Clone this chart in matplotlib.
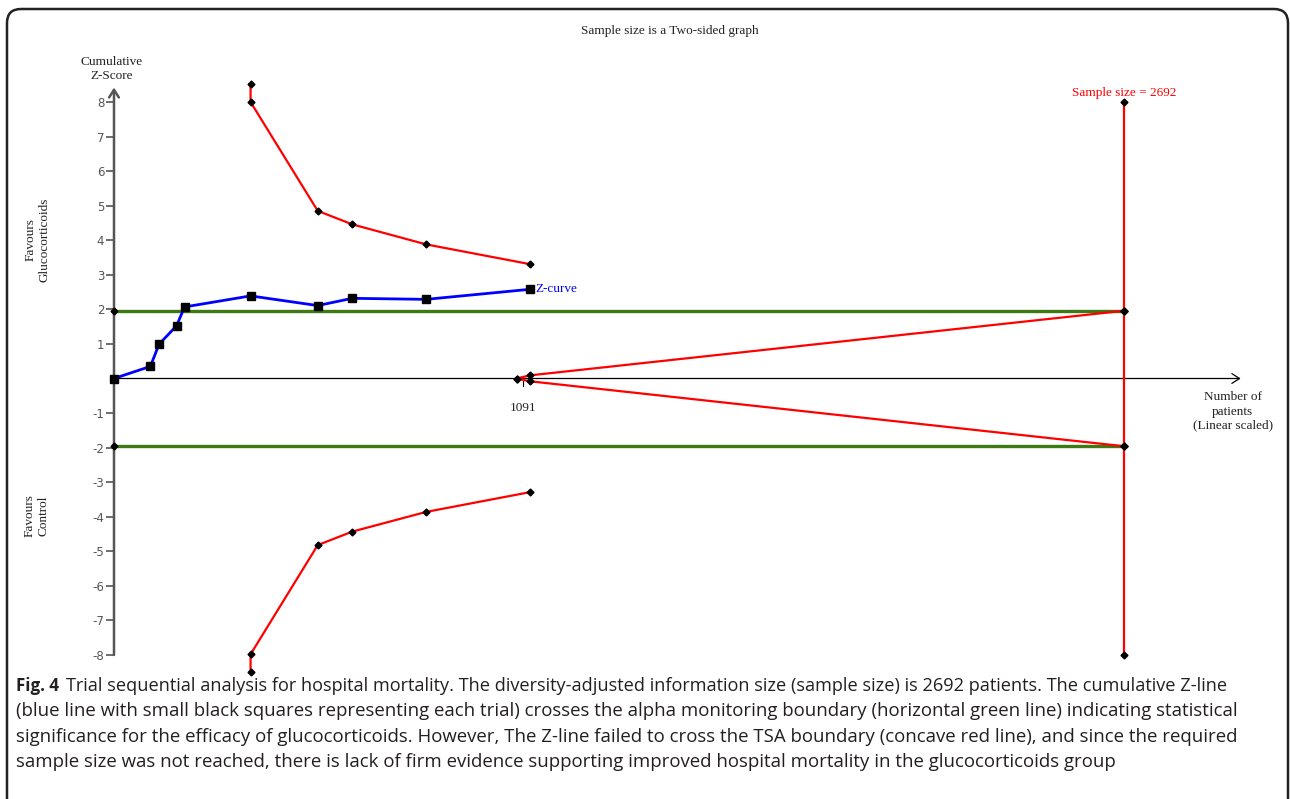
import matplotlib
matplotlib.use('Agg')
import matplotlib.pyplot as plt
from matplotlib.patches import FancyBboxPatch

# ---------------- data ----------------
z_patients = [0, 97, 120, 167, 188, 364, 543, 635, 832, 1108]
z_scores = [0.0, 0.35, 0.99, 1.53, 2.07, 2.39, 2.11, 2.32, 2.29, 2.58]

bound_patients = [364, 364, 543, 635, 832, 1108]
upper_bound = [8.52, 8.0, 4.85, 4.46, 3.88, 3.31]
lower_bound = [-8.49, -7.98, -4.82, -4.43, -3.86, -3.29]

futility_patients = [1073, 1108, 2692]
futility_upper = [0.0, 0.09, 1.96]
futility_lower = [0.0, -0.08, -1.96]

alpha_level = 1.96
required_size = 2692
ris_z = [8.0, 1.96, -1.96, -8.0]
current_total = 1091

y_ticks = [-8, -7, -6, -5, -4, -3, -2, -1, 1, 2, 3, 4, 5, 6, 7, 8]

title = "Sample size is a Two-sided graph"
caption_bold = "Fig. 4"
caption_lines = [
    "Trial sequential analysis for hospital mortality. The diversity-adjusted information size (sample size) is 2692 patients. The cumulative Z-line",
    "(blue line with small black squares representing each trial) crosses the alpha monitoring boundary (horizontal green line) indicating statistical",
    "significance for the efficacy of glucocorticoids. However, The Z-line failed to cross the TSA boundary (concave red line), and since the required",
    "sample size was not reached, there is lack of firm evidence supporting improved hospital mortality in the glucocorticoids group",
]

# ---------------- figure ----------------
W, H = 1290, 799
fig = plt.figure(figsize=(W / 100, H / 100), dpi=100)
fig.patch.set_facecolor('white')

serif = ['Liberation Serif', 'DejaVu Serif']
capfont = ['Open Sans', 'DejaVu Sans']

# overlay in pixel coordinates
ov = fig.add_axes([0, 0, 1, 1])
ov.set_xlim(0, W)
ov.set_ylim(H, 0)
ov.axis('off')
ov.add_patch(FancyBboxPatch((7, 9), 1281, 840, boxstyle='round,pad=0,rounding_size=14',
                            fill=False, lw=1.8, ec='#222222', clip_on=False))

# main axes
ax = fig.add_axes([114 / W, (H - 655) / H, 1010 / W, 553 / H])
ax.set_xlim(0, required_size)
ax.set_ylim(-8, 8)
for s in ax.spines.values():
    s.set_visible(False)
ax.patch.set_alpha(0)
ax.set_xticks([])
ax.set_yticks(y_ticks)
ax.set_yticklabels([str(t) for t in y_ticks], fontsize=8.5, color='#555555',
                   family=['DejaVu Sans'])
ax.tick_params(axis='y', length=5.5, width=1.2, color='#555555', pad=1.5)

red = '#ff0000'
green = '#3d7a14'
dk = 'black'

# y axis with arrow
ax.annotate('', xy=(0, 8.42), xytext=(0, -8.0), annotation_clip=False,
            arrowprops=dict(arrowstyle='->,head_length=0.55,head_width=0.35',
                            color='#555555', lw=1.8, shrinkA=0, shrinkB=0))
# x axis with arrow
ax.annotate('', xy=(3003, 0), xytext=(0, 0), annotation_clip=False,
            arrowprops=dict(arrowstyle='->,head_length=0.55,head_width=0.35',
                            color='black', lw=0.9, shrinkA=0, shrinkB=0))
# tick for current total
ax.plot([current_total, current_total], [0, -0.22], color='black', lw=0.8, clip_on=False)
ax.text(current_total, -0.84, str(current_total), ha='center', va='center',
        fontsize=9.5, family=serif, color='#222222')

# alpha (green) lines
for lvl in (alpha_level, -alpha_level):
    ax.plot([0, required_size], [lvl, lvl], color=green, lw=2.4, clip_on=False, zorder=2)
    ax.plot([0, required_size], [lvl, lvl], 'D', color=dk, ms=3.5, clip_on=False, zorder=6)

# TSA monitoring boundaries
ax.plot(bound_patients, upper_bound, color=red, lw=1.6, marker='D', ms=3.5,
        mfc=dk, mec=dk, clip_on=False, zorder=3)
ax.plot(bound_patients, lower_bound, color=red, lw=1.6, marker='D', ms=3.5,
        mfc=dk, mec=dk, clip_on=False, zorder=3)

# futility wedge
ax.plot(futility_patients, futility_upper, color=red, lw=1.6, marker='D', ms=3.5,
        mfc=dk, mec=dk, clip_on=False, zorder=3)
ax.plot(futility_patients, futility_lower, color=red, lw=1.6, marker='D', ms=3.5,
        mfc=dk, mec=dk, clip_on=False, zorder=3)

# required information size line
ax.plot([required_size] * len(ris_z), ris_z, color=red, lw=1.6, marker='D', ms=3.5,
        mfc=dk, mec=dk, clip_on=False, zorder=3)
ax.text(required_size, 8.27, "Sample size = %d" % required_size, ha='center', va='center',
        color=red, fontsize=9.5, family=serif)

# Z-curve
ax.plot(z_patients, z_scores, color='#0000ff', lw=2.0, marker='s', ms=5.5,
        mfc=dk, mec=dk, clip_on=False, zorder=5)
ax.text(z_patients[-1] + 15, z_scores[-1], "Z-curve", ha='left', va='center',
        color='#0000ff', fontsize=9.5, family=serif)

# x label
ax.text(2982, -0.955, "Number of\npatients\n(Linear scaled)", ha='center', va='center',
        fontsize=9.5, family=serif, color='#222222', linespacing=1.25)

# texts in pixel overlay
ov.text(670, 31, title, ha='center', va='center', fontsize=9.5, family=serif, color='#222222')
ov.text(112, 69, "Cumulative\nZ-Score", ha='center', va='center', fontsize=9.5,
        family=serif, color='#222222', linespacing=1.2)
ov.text(38, 240, "Favours\nGlucocorticoids", ha='center', va='center', rotation=90,
        fontsize=9.5, family=serif, color='#222222', linespacing=1.2)
ov.text(37, 516, "Favours\nControl", ha='center', va='center', rotation=90,
        fontsize=9.5, family=serif, color='#222222', linespacing=1.2)

# caption
cap_y = [686, 711, 737, 762]
cap_x = 16
cap_size = 13.4
cap_color = '#231f20'
ov.text(cap_x, cap_y[0], caption_bold, ha='left', va='center', fontsize=12.2,
        family=capfont, weight='bold', color=cap_color)
ov.text(66, cap_y[0], caption_lines[0], ha='left', va='center', fontsize=13.1,
        family=capfont, color=cap_color)
for yy, line in zip(cap_y[1:], caption_lines[1:]):
    ov.text(cap_x, yy, line, ha='left', va='center', fontsize=cap_size,
            family=capfont, color=cap_color)

fig.savefig('out.png', dpi=100)
